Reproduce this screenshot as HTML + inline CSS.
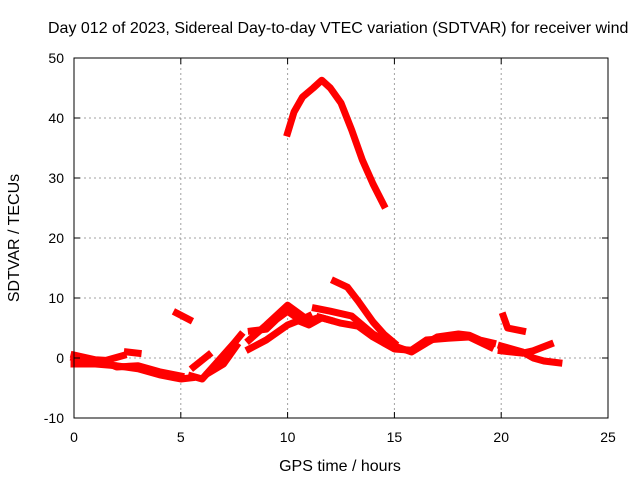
<!DOCTYPE html>
<html><head><meta charset="utf-8"><style>
body{margin:0;background:#fff}
svg text{font-family:"Liberation Sans",sans-serif;font-size:14px;fill:#000}
svg text.big{font-size:16px}
</style></head><body>
<svg id="c" width="640" height="480">
<text class="big" x="48" y="33">Day 012 of 2023, Sidereal Day-to-day VTEC variation (SDTVAR) for receiver wind</text>
<g id="grid"></g><g id="marks"></g><g id="axes"></g>
<text class="big" x="340" y="471" text-anchor="middle">GPS time / hours</text>
<text class="big" transform="translate(19,238) rotate(-90)" text-anchor="middle">SDTVAR / TECUs</text>
</svg>
<script>
const xTicks=[0,5,10,15,20,25];
const yTicks=[-10,0,10,20,30,40,50];
const trackA=[[0,0.5],[1,-0.3],[1.5,-0.4],[2.3,0.4]];
const trackA2=[[2.5,1],[3,0.8]];
const trackB=[[0,-1],[1,-1],[2,-1.3],[3,-1.8],[4,-2.8],[5,-3.5],[5.5,-3.3]];
const trackB2=[[0,0],[0.5,-0.5],[1.5,-0.8],[2,-1.5],[3,-1.3],[4,-2.3],[5,-3]];
const trackC=[[4.8,7.5],[5.4,6.4]];
const trackD=[[5.5,-3],[6,-3.5],[6.5,-1.5],[7,0.5],[7.5,2.5],[7.8,3.8]];
const trackD2=[[5.6,-1.5],[6.3,0.5]];
const trackD3=[[6.3,-2.5],[7,-1],[7.6,2]];
const trackE=[[8.2,3],[9,5.5],[10,8.8],[10.5,7.5],[11,6.2],[11.5,6.8],[12,6.3]];
const trackE2=[[8.2,1.5],[9,3],[10,5.5],[10.5,6.2],[11,5.5],[11.5,6.5]];
const trackE3=[[8.3,4.5],[9,4.8],[9.5,6.5],[10,7.8],[10.6,6.3],[11,7]];
const trackF=[[10,37.5],[10.3,41],[10.7,43.5],[11.2,45],[11.6,46.3],[12,45],[12.5,42.5],[13,38],[13.5,33],[14,29],[14.5,25.5]];
const trackG=[[12.2,12.8],[12.8,11.8],[13.3,9.5],[14,6],[14.5,4],[15,2.5]];
const trackH=[[11.3,8.3],[12,7.8],[13,7],[13.5,5.5],[14,4],[14.5,3],[15,2],[15.8,1],[16.5,2.5],[17,3.5],[18,4],[18.5,3.8],[19,3],[19.6,2.5]];
const trackH2=[[11.5,6.8],[12.5,5.8],[13.3,5.3],[14,3.5],[15,1.5],[15.8,1.3],[16.5,3],[17.5,3.3],[18.5,3.5],[19.5,1.8]];
const trackI=[[20.1,7],[20.3,5],[21,4.5]];
const trackI2=[[20,2],[21,1],[21.5,0],[22,-0.5],[22.7,-0.8]];
const trackI3=[[20,1.2],[21,0.8],[21.5,1.2],[22.3,2.3]];
const tracks=[trackA,trackA2,trackB,trackB2,trackC,trackD,trackD2,trackD3,trackE,trackE2,trackE3,trackF,trackG,trackH,trackH2,trackI,trackI2,trackI3];
const L=74,R=608,T=58,B=418;
const xs=v=>L+(v-0)/25*(R-L);
const ys=v=>B-(v+10)/60*(B-T);
const NS='http://www.w3.org/2000/svg';
function mk(t,p,parent){const e=document.createElementNS(NS,t);for(const k in p)e.setAttribute(k,p[k]);parent.appendChild(e);return e;}
const grid=document.getElementById('grid'),axes=document.getElementById('axes'),marks=document.getElementById('marks');
xTicks.forEach(v=>{const x=xs(v);
 if(v>0&&v<25){const g=mk('line',{x1:x,y1:T,x2:x,y2:B,stroke:'#a0a0a0','stroke-dasharray':'2,3'},grid);
 }
 const t=mk('line',{x1:x,y1:B,x2:x,y2:B-6,stroke:'#000'},axes);
 const t2=mk('line',{x1:x,y1:T,x2:x,y2:T+6,stroke:'#000'},axes);
 const l=mk('text',{x:x,y:B+24,'text-anchor':'middle'},axes);l.textContent=v;});
yTicks.forEach(v=>{const y=ys(v);
 if(v>-10&&v<50){const g=mk('line',{x1:L,y1:y,x2:R,y2:y,stroke:'#a0a0a0','stroke-dasharray':'2,3'},grid);
 }
 const t=mk('line',{x1:L,y1:y,x2:L+6,y2:y,stroke:'#000'},axes);
 const t2=mk('line',{x1:R,y1:y,x2:R-6,y2:y,stroke:'#000'},axes);
 const l=mk('text',{x:L-10,y:y+5,'text-anchor':'end'},axes);l.textContent=v;});
const fr=mk('rect',{x:L,y:T,width:R-L,height:B-T,fill:'none',stroke:'#000'},axes);

tracks.forEach(tr=>{const p=mk('polyline',{points:tr.map(d=>xs(d[0])+','+ys(d[1])).join(' '),fill:'none',stroke:'#ff0000','stroke-width':7,'stroke-linejoin':'round','stroke-linecap':'square'},marks);
 });
</script>
</body></html>
